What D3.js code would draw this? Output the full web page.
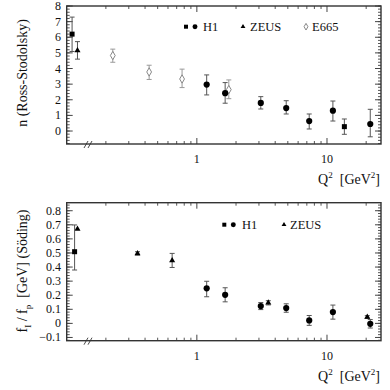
<!DOCTYPE html>
<html><head><meta charset="utf-8">
<script src="https://cdn.jsdelivr.net/npm/d3@7"></script>
<style>body{margin:0;background:#fff}svg{display:block}text{font-family:"Liberation Serif","DejaVu Serif",serif;fill:#111}</style>
</head><body><svg id="c" width="390" height="390"></svg>
<script>
// ---- data: top panel (Ross-Stodolsky n) ----
const topH1Sq   = {q2:[0.11, 13.6], v:[6.2, 0.28], up:[1.09, 0.49], dn:[1.11, 0.49]};
const topH1     = {q2:[1.19, 1.65, 3.1, 4.86, 7.3, 11.1, 21.5], v:[2.97, 2.42, 1.8, 1.47, 0.64, 1.3, 0.45], up:[0.62, 0.68, 0.4, 0.47, 0.45, 0.62, 0.94], dn:[0.66, 0.64, 0.39, 0.38, 0.51, 0.66, 0.82]};
const topZEUS   = {q2:[0.121], v:[5.15], up:[0.57], dn:[0.55]};
const topE665   = {q2:[0.226, 0.43, 0.77, 1.76], v:[4.83, 3.78, 3.33, 2.65], up:[0.41, 0.43, 0.63, 0.62], dn:[0.43, 0.48, 0.55, 0.58]};
// ---- data: bottom panel (Söding f_I/f_p) ----
const botH1Sq   = {q2:[0.115], v:[0.509], up:[0.19], dn:[0.13]};
const botH1     = {q2:[1.19, 1.65, 3.1, 4.86, 7.3, 11.1, 21.5], v:[0.249, 0.203, 0.123, 0.109, 0.021, 0.08, -0.003], up:[0.05, 0.05, 0.025, 0.03, 0.035, 0.05, 0.03], dn:[0.06, 0.05, 0.025, 0.03, 0.035, 0.05, 0.03]};
const botZEUS   = {q2:[0.121, 0.35, 0.646, 3.54, 20.4], v:[0.67, 0.497, 0.447, 0.146, 0.045], up:[0, 0.012, 0.05, 0.015, 0.01], dn:[0, 0.012, 0.05, 0.015, 0.01]};
const topYTicks = [0,1,2,3,4,5,6,7,8];
const botYTicks = [-0.1,0,0.1,0.2,0.3,0.4,0.5,0.6,0.7,0.8];
const xLabels = [1, 10];

const svg = d3.select("#c");
const L = 66.7, R = 381;
const x = d3.scaleLog().domain([0.1, 26]).range([L, R]);
const minorX = [];
[0.1,1,10].forEach(d=>{for(let k=2;k<10;k++){const v=d*k; if(v>0.1&&v<26) minorX.push(+v.toPrecision(3));}});

function panel(cfg){
  const y = d3.scaleLinear().domain(cfg.ydom).range([cfg.bottom, cfg.top]);
  const g = svg.append("g");
  const T = cfg.top, B = cfg.bottom;
  xLabels.forEach(v=>{
    g.append("line").attr("x1",x(v)).attr("x2",x(v)).attr("y1",B).attr("y2",B-6).attr("stroke","#444");
    g.append("line").attr("x1",x(v)).attr("x2",x(v)).attr("y1",T).attr("y2",T+6).attr("stroke","#444");
    g.append("text").attr("x",x(v)).attr("y",B+19).attr("text-anchor","middle").attr("font-size",12).text(v);
  });
  minorX.forEach(v=>{
    g.append("line").attr("x1",x(v)).attr("x2",x(v)).attr("y1",B).attr("y2",B-3).attr("stroke","#555");
    g.append("line").attr("x1",x(v)).attr("x2",x(v)).attr("y1",T).attr("y2",T+3).attr("stroke","#555");
  });
  const [y0,y1] = cfg.ydom;
  const nMin = Math.round((y1-y0)/cfg.minor);
  for(let i=0;i<=nMin+2;i++){
    const v = Math.ceil(y0/cfg.minor)*cfg.minor + i*cfg.minor;
    if(v>y1) break;
    g.append("line").attr("x1",L).attr("x2",L+3).attr("y1",y(v)).attr("y2",y(v)).attr("stroke","#555");
    g.append("line").attr("x1",R).attr("x2",R-3).attr("y1",y(v)).attr("y2",y(v)).attr("stroke","#555");
  }
  cfg.yticks.forEach(v=>{
    g.append("line").attr("x1",L).attr("x2",L+6).attr("y1",y(v)).attr("y2",y(v)).attr("stroke","#444");
    g.append("line").attr("x1",R).attr("x2",R-6).attr("y1",y(v)).attr("y2",y(v)).attr("stroke","#444");
    g.append("text").attr("x",61).attr("y",y(v)+4).attr("text-anchor","end").attr("font-size",12)
      .text(Math.abs(v)<1e-9?"0":d3.format("")(+v.toFixed(2)));
  });
  g.append("rect").attr("x",L).attr("y",T).attr("width",R-L).attr("height",B-T)
    .attr("fill","none").attr("stroke","#333").attr("stroke-width",1.4);
  [86,90].forEach(bx=>{
    g.append("line").attr("x1",bx-2).attr("x2",bx+2).attr("y1",B+4).attr("y2",B-3).attr("stroke","#333").attr("stroke-width",0.9);
  });
  cfg.series.forEach(s=>{
    const d = s.data;
    d.q2.forEach((q,i)=>{
      const cx = x(q), cy = y(d.v[i]);
      if(d.up[i]>0||d.dn[i]>0){
        const ya = y(d.v[i]+d.up[i]), yb = y(d.v[i]-d.dn[i]);
        g.append("line").attr("x1",cx).attr("x2",cx).attr("y1",ya).attr("y2",yb).attr("stroke",s.ecol).attr("stroke-width",1);
        [ya,yb].forEach(yy=>g.append("line").attr("x1",cx-2.5).attr("x2",cx+2.5).attr("y1",yy).attr("y2",yy).attr("stroke",s.ecol).attr("stroke-width",1));
      }
      marker(g, s.m, cx, cy, s.col, 1);
    });
  });
  cfg.legend.forEach(l=>{
    l.m.forEach((m,j)=>marker(g, m, l.mx[j], cfg.ly, l.col, 0.8));
    g.append("text").attr("x",l.tx).attr("y",cfg.ly+4.5).attr("font-size",12.5).text(l.t);
  });
  const xt = g.append("text").attr("x",R-1).attr("y",B+40).attr("text-anchor","end").attr("font-size",14);
  xt.append("tspan").text("Q");
  xt.append("tspan").attr("dy",-6).attr("font-size",9).text("2");
  xt.append("tspan").attr("dy",6).text("\u2002[GeV");
  xt.append("tspan").attr("dy",-6).attr("font-size",9).text("2");
  xt.append("tspan").attr("dy",6).text("]");
  return y;
}
function marker(g, m, cx, cy, col, s){
  if(m==="circle") g.append("circle").attr("cx",cx).attr("cy",cy).attr("r",3.1*s).attr("fill",col);
  else if(m==="square") g.append("rect").attr("x",cx-2.5*s).attr("y",cy-2.5*s).attr("width",5*s).attr("height",5*s).attr("fill",col);
  else if(m==="tri") g.append("path").attr("d",d3.symbol(d3.symbolTriangle,16*s*s)()).attr("transform",`translate(${cx},${cy})`).attr("fill",col);
  else if(m==="diamond") g.append("path").attr("d",d3.symbol(d3.symbolDiamond,20*s*s)()).attr("transform",`translate(${cx},${cy})`).attr("fill","#fff").attr("stroke",col).attr("stroke-width",1);
}

panel({top:6, bottom:144, ydom:[-0.83, 8], yticks:topYTicks, minor:0.2, ly:26.7,
  series:[
    {data:topE665, m:"diamond", col:"#888", ecol:"#999"},
    {data:topZEUS, m:"tri", col:"#000", ecol:"#555"},
    {data:topH1Sq, m:"square", col:"#000", ecol:"#555"},
    {data:topH1, m:"circle", col:"#000", ecol:"#555"}],
  legend:[
    {m:["square","circle"], mx:[186,195], tx:203, t:"H1", col:"#000"},
    {m:["tri"], mx:[243], tx:250, t:"ZEUS", col:"#000"},
    {m:["diamond"], mx:[306], tx:312, t:"E665", col:"#888"}]
});
panel({top:202.7, bottom:340.7, ydom:[-0.123, 0.857], yticks:botYTicks, minor:0.02, ly:224.7,
  series:[
    {data:botZEUS, m:"tri", col:"#000", ecol:"#555"},
    {data:botH1Sq, m:"square", col:"#000", ecol:"#555"},
    {data:botH1, m:"circle", col:"#000", ecol:"#555"}],
  legend:[
    {m:["square","circle"], mx:[224.3,233.3], tx:242, t:"H1", col:"#000"},
    {m:["tri"], mx:[284], tx:290, t:"ZEUS", col:"#000"}]
});
svg.append("text").attr("transform","translate(27,73) rotate(-90)").attr("text-anchor","middle").attr("font-size",14).text("n (Ross-Stodolsky)");
const yt2 = svg.append("text").attr("transform","translate(27,271) rotate(-90)").attr("text-anchor","middle").attr("font-size",14);
yt2.append("tspan").text("f");
yt2.append("tspan").attr("dy",4).attr("font-size",9).text("I");
yt2.append("tspan").attr("dy",-4).text(" / f");
yt2.append("tspan").attr("dy",4).attr("font-size",9).text("p");
yt2.append("tspan").attr("dy",-4).text("\u2002[GeV] (Söding)");
</script></body></html>
